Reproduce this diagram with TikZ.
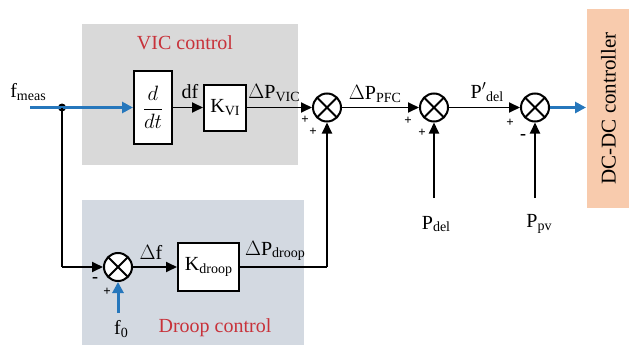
\documentclass[tikz,border=0pt]{standalone}
\usepackage{amsmath}
\usepackage{fontspec}
\setmainfont{Liberation Serif}
\usetikzlibrary{arrows.meta}
\newcommand{\lowsub}[1]{\raisebox{-0.3ex}{\fontsize{14}{14}\selectfont #1}}
\definecolor{vicbg}{HTML}{D9D9D9}
\definecolor{droopbg}{HTML}{D3D9E1}
\definecolor{peach}{HTML}{F8CBAD}
\definecolor{lblred}{HTML}{C8323A}
\definecolor{sigblue}{HTML}{2677BC}
\begin{document}
\begin{tikzpicture}[x=1pt,y=-1pt,
  line width=1.8pt,
  every node/.style={font=\fontsize{20}{22}\selectfont},
  blk/.style={draw, fill=white, line width=2pt, inner sep=0pt},
  sumnode/.style={circle, draw, fill=white, line width=2pt, minimum size=28pt, inner sep=0pt,
    path picture={\draw[line width=2pt] (path picture bounding box.center) +(45:14pt) -- +(225:14pt)
      (path picture bounding box.center) +(135:14pt) -- +(315:14pt);}},
  arr/.style={-{Triangle[length=11pt,width=10pt]}},
  barr/.style={sigblue, line width=3pt, -{Triangle[length=11pt,width=11pt]}},
  sgn/.style={font=\fontsize{13}{13}\selectfont\bfseries, inner sep=0pt},
  lbl/.style={inner sep=0pt}]
\useasboundingbox (0,0) rectangle (629,345);
% backgrounds
\fill[vicbg] (82,24) rectangle (298,165);
\fill[droopbg] (82,200) rectangle (304,345);
\node[fill=peach, minimum width=43pt, minimum height=199pt, anchor=north west, inner sep=0pt] (dcdc) at (586,8) {};
\node[rotate=90, font=\fontsize{21}{23}\selectfont] (dcdctxt) at (dcdc.center) {DC-DC controller};
\node[lbl, text=lblred] (viclbl) at (185,43) {VIC control};
\node[lbl, text=lblred] (drooplbl) at (215,328) {Droop control};
% blocks
\node[blk, minimum width=38pt, minimum height=73pt, font=\fontsize{22}{24}\selectfont] (ddt) at (153,107.5) {$\dfrac{d}{dt}$};
\node[blk, minimum width=42pt, minimum height=46pt] (kvi) at (225,107.5) {K\lowsub{VI}};
\node[blk, minimum width=61pt, minimum height=48pt] (kdroop) at (208.5,267) {K\lowsub{droop}};
\node[sumnode] (s1) at (118,267) {};
\node[sumnode] (s2) at (327,107.5) {};
\node[sumnode] (s3) at (434,107.5) {};
\node[sumnode] (s4) at (535,107.5) {};
% coordinates
\coordinate (inp) at (30,107.5);
\node[circle, fill=black, inner sep=0pt, minimum size=8pt] (dot) at (62,107.5) {};
\coordinate (c1) at (62,267);
\coordinate (c2) at (327,267);
\coordinate (pdel) at (434,198);
\coordinate (ppv) at (535,198);
\coordinate (f0) at (118,313);
% connectors
\draw[barr] (inp) -- (ddt.west);
\draw (dot.center) -- (c1);
\draw[arr] (c1) -- (s1.west);
\draw[barr] (f0) -- (s1.south);
\draw[arr] (s1.east) -- (kdroop.west);
\draw (kdroop.east) -- (c2);
\draw[arr] (c2) -- (s2.south);
\draw[arr] (ddt.east) -- (kvi.west);
\draw[arr] (kvi.east) -- (s2.west);
\draw[arr] (s2.east) -- (s3.west);
\draw[arr] (pdel) -- (s3.south);
\draw[arr] (s3.east) -- (s4.west);
\draw[arr] (ppv) -- (s4.south);
\draw[barr] (s4.east) -- (dcdc.west |- s4.east);
% labels
\node[lbl] (fmeas) at (28,92) {f\lowsub{meas}};
\node[lbl] (df) at (190,92) {df};
\node[lbl] (dpvic) at (274,93) {$\Delta$P\lowsub{VIC}};
\node[lbl] (dppfc) at (375,94) {$\Delta$P\lowsub{PFC}};
\node[lbl] (pdelp) at (487,92) {P$'$\lowsub{del}};
\node[lbl] (pdellbl) at (436,224) {P\lowsub{del}};
\node[lbl] (ppvlbl) at (539,224) {P\lowsub{pv}};
\node[lbl] (dflbl) at (151,252) {$\Delta$f};
\node[lbl] (dpdroop) at (275,251) {$\Delta$P\lowsub{droop}};
\node[lbl] (f0lbl) at (121,329) {f\lowsub{0}};
% signs
\node[sgn] (p1) at (305,120) {+};
\node[sgn] (p2) at (313,132) {+};
\node[sgn] (p3) at (408,121) {+};
\node[sgn] (p4) at (422,133) {+};
\node[sgn] (p5) at (510,123) {+};
\node[sgn, font=\fontsize{18}{18}\selectfont\bfseries] (m1) at (523,137) {-};
\node[sgn, font=\fontsize{18}{18}\selectfont\bfseries] (m2) at (95,280) {-};
\node[sgn] (p6) at (107,292) {+};
\end{tikzpicture}
\end{document}
